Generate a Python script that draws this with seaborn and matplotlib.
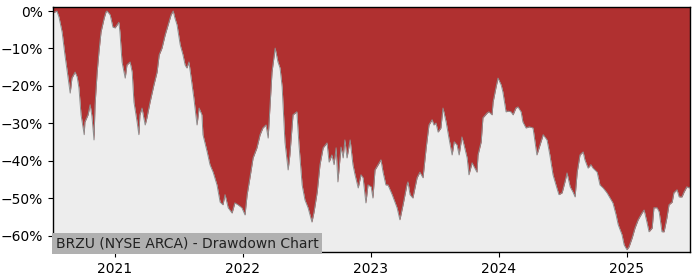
import matplotlib
matplotlib.use("Agg")
import matplotlib.pyplot as plt
from matplotlib.ticker import PercentFormatter, MultipleLocator
import seaborn as sns
import pandas as pd

dates = [
    "2020-07-08", "2020-07-19", "2020-07-25", "2020-08-03", "2020-08-11", "2020-08-23", "2020-08-26",
    "2020-08-31", "2020-09-09", "2020-09-15", "2020-09-20", "2020-09-26", "2020-10-05", "2020-10-07",
    "2020-10-16", "2020-10-22", "2020-10-27", "2020-11-02", "2020-11-05", "2020-11-11", "2020-11-16",
    "2020-11-22", "2020-12-01", "2020-12-06", "2020-12-09", "2020-12-18", "2020-12-26",
    "2021-01-01", "2021-01-07", "2021-01-12", "2021-01-15", "2021-01-21", "2021-01-30", "2021-02-04",
    "2021-02-13", "2021-02-19", "2021-02-24", "2021-03-05", "2021-03-10", "2021-03-13", "2021-03-19",
    "2021-03-28", "2021-04-02", "2021-04-11", "2021-04-22", "2021-05-01", "2021-05-07", "2021-05-15",
    "2021-05-24", "2021-06-04", "2021-06-10", "2021-06-16", "2021-06-21", "2021-06-27", "2021-07-06",
    "2021-07-14", "2021-07-20", "2021-07-25", "2021-07-31", "2021-08-09", "2021-08-14", "2021-08-23",
    "2021-08-29", "2021-09-06", "2021-09-09", "2021-09-21", "2021-09-29", "2021-10-08", "2021-10-19",
    "2021-10-28", "2021-11-05", "2021-11-11", "2021-11-20", "2021-12-01", "2021-12-09", "2021-12-18",
    "2021-12-29",
    "2022-01-07", "2022-01-13", "2022-01-21", "2022-01-30", "2022-02-10", "2022-02-19", "2022-02-27",
    "2022-03-08", "2022-03-14", "2022-03-19", "2022-03-25", "2022-04-03", "2022-04-11", "2022-04-17",
    "2022-04-23", "2022-05-01", "2022-05-10", "2022-05-15", "2022-05-24", "2022-06-04", "2022-06-10",
    "2022-06-19", "2022-06-27", "2022-07-06", "2022-07-17", "2022-07-23", "2022-08-01", "2022-08-09",
    "2022-08-18", "2022-08-29", "2022-09-04", "2022-09-12", "2022-09-18", "2022-09-24", "2022-09-29",
    "2022-10-08", "2022-10-14", "2022-10-19", "2022-10-25", "2022-11-03", "2022-11-11", "2022-11-17",
    "2022-11-26", "2022-12-04", "2022-12-10", "2022-12-18", "2022-12-24",
    "2023-01-02", "2023-01-07", "2023-01-13", "2023-01-22", "2023-01-30", "2023-02-05", "2023-02-13",
    "2023-02-19", "2023-03-03", "2023-03-11", "2023-03-17", "2023-03-25", "2023-04-03", "2023-04-14",
    "2023-04-17", "2023-04-23", "2023-05-01", "2023-05-13", "2023-05-21", "2023-05-30", "2023-06-08",
    "2023-06-16", "2023-06-25", "2023-06-30", "2023-07-06", "2023-07-12", "2023-07-20", "2023-07-26",
    "2023-08-04", "2023-08-12", "2023-08-21", "2023-08-27", "2023-09-04", "2023-09-10", "2023-09-18",
    "2023-09-24", "2023-10-03", "2023-10-08", "2023-10-17", "2023-10-23", "2023-10-31", "2023-11-03",
    "2023-11-12", "2023-11-17", "2023-11-29", "2023-12-04", "2023-12-13", "2023-12-16", "2023-12-24",
    "2023-12-30",
    "2024-01-08", "2024-01-13", "2024-01-22", "2024-01-28", "2024-02-05", "2024-02-11", "2024-02-19",
    "2024-02-25", "2024-03-05", "2024-03-10", "2024-03-19", "2024-03-28", "2024-04-08", "2024-04-19",
    "2024-04-28", "2024-05-07", "2024-05-18", "2024-05-26", "2024-06-04", "2024-06-15", "2024-06-21",
    "2024-06-30", "2024-07-08", "2024-07-14", "2024-07-23", "2024-07-31", "2024-08-06", "2024-08-12",
    "2024-08-20", "2024-08-29", "2024-09-03", "2024-09-12", "2024-09-20", "2024-09-26", "2024-10-08",
    "2024-10-16", "2024-10-25", "2024-11-05", "2024-11-14", "2024-11-22", "2024-12-01", "2024-12-07",
    "2024-12-18", "2024-12-24",
    "2025-01-01", "2025-01-07", "2025-01-16", "2025-01-24", "2025-02-02", "2025-02-13", "2025-02-19",
    "2025-02-27", "2025-03-05", "2025-03-14", "2025-03-19", "2025-03-28", "2025-04-03", "2025-04-11",
    "2025-04-17", "2025-04-25", "2025-05-01", "2025-05-10", "2025-05-15", "2025-05-24", "2025-05-30",
    "2025-06-07", "2025-06-13", "2025-06-21", "2025-06-27", "2025-06-30",
]

drawdown_pct = [
    -0.5, 0.0, -1.6, -5.6, -11.7, -19.7, -21.9,
    -17.9, -16.3, -17.6, -20.5, -27.7, -33.0, -29.6,
    -27.7, -25.0, -28.0, -34.4, -25.0, -16.3, -11.0,
    -5.6, -1.9, -0.3, 0.0, -1.0, -4.3,
    -4.5, -3.7, -3.0, -5.6, -13.6, -17.9, -14.4,
    -13.6, -16.3, -24.3, -29.6, -33.0, -27.7, -25.9,
    -30.4, -28.5, -24.3, -19.7, -16.3, -11.7, -9.9,
    -6.4, -2.9, -1.0, 0.0, -1.9, -3.7, -9.0,
    -11.7, -14.4, -15.2, -13.6, -19.7, -23.2, -30.4,
    -25.9, -27.7, -33.0, -37.6, -41.0, -43.0, -46.4,
    -51.0, -51.7, -49.0, -52.5, -53.9, -51.2, -51.7,
    -52.5,
    -54.4, -49.0, -44.5, -39.2, -36.5, -33.0, -31.2,
    -30.4, -33.9, -25.9, -16.3, -9.9, -13.6, -15.2,
    -20.3, -35.0, -42.4, -38.4, -27.7, -26.9, -35.7,
    -46.4, -50.4, -52.5, -56.3, -53.6, -48.3, -41.0,
    -36.5, -35.2, -40.3, -38.4, -41.0, -36.5, -45.6,
    -36.3, -39.2, -34.4, -39.2, -34.4, -41.0, -43.7,
    -47.2, -43.7, -44.5, -51.2, -46.4,
    -46.9, -49.9, -42.4, -41.0, -39.7, -43.0, -46.4,
    -46.4, -49.0, -51.0, -52.5, -55.7, -51.7, -46.4,
    -45.6, -49.0, -49.9, -44.5, -43.0, -44.5, -36.5,
    -30.4, -29.0, -30.4, -29.9, -32.3, -31.2, -25.9,
    -29.6, -33.9, -38.4, -34.9, -35.7, -38.4, -33.6,
    -35.7, -39.2, -43.7, -40.5, -41.6, -43.0, -38.4,
    -34.9, -28.5, -27.2, -26.9, -27.7, -24.3, -20.5,
    -17.9,
    -19.7, -21.6, -26.9, -26.7, -26.9, -27.7, -25.9,
    -25.6, -26.9, -29.6, -31.2, -30.9, -31.2, -38.4,
    -35.7, -33.0, -34.4, -38.4, -43.7, -47.2, -49.0,
    -48.5, -45.6, -43.2, -46.9, -48.3, -49.6, -43.0,
    -38.4, -37.6, -39.7, -41.9, -41.0, -41.9, -43.0,
    -46.4, -47.2, -48.5, -49.9, -51.2, -54.4, -57.0,
    -59.7, -62.4,
    -63.7, -62.9, -60.5, -57.9, -55.7, -53.9, -53.1,
    -56.3, -58.9, -57.9, -52.5, -52.5, -53.6, -58.9,
    -58.9, -55.2, -51.7, -51.0, -48.5, -47.7, -49.6,
    -49.6, -48.3, -46.9, -47.2, -47.0,
]

title = "BRZU (NYSE ARCA) - Drawdown Chart"
year_ticks = ["2021-01-01", "2022-01-01", "2023-01-01", "2024-01-01", "2025-01-01"]
year_labels = ["2021", "2022", "2023", "2024", "2025"]

df = pd.DataFrame({"date": pd.to_datetime(dates), "dd": drawdown_pct})

RED = "#b03030"
GREY_BG = "#ededed"

fig = plt.figure(figsize=(7, 2.8), dpi=100)
ax = fig.add_axes([53 / 700, 1 - 252 / 280, 637 / 700, 245 / 280])
ax.set_facecolor(RED)

y_bottom = -64.3
y_top = 1.07
ax.fill_between(df["date"], df["dd"], y_bottom, color=GREY_BG, linewidth=0)
sns.lineplot(data=df, x="date", y="dd", ax=ax, color="#8f8f8f", linewidth=0.7)

ax.set_ylim(y_bottom, y_top)
ax.set_xlim(df["date"].iloc[0], df["date"].iloc[-1])
ax.yaxis.set_major_locator(MultipleLocator(10))
ax.yaxis.set_major_formatter(PercentFormatter(100, decimals=0))
ax.set_xticks(pd.to_datetime(year_ticks))
ax.set_xticklabels(year_labels)
ax.set_xlabel("")
ax.set_ylabel("")
ax.tick_params(labelsize=10)
for s in ax.spines.values():
    s.set_color("black")
    s.set_linewidth(1.0)

ax.text(0.004, 0.008, title, transform=ax.transAxes, ha="left", va="bottom",
        fontsize=10, color="#222222",
        bbox=dict(facecolor="#b0b0b0", edgecolor="none", pad=2.5))

fig.savefig("out.png", dpi=100)
